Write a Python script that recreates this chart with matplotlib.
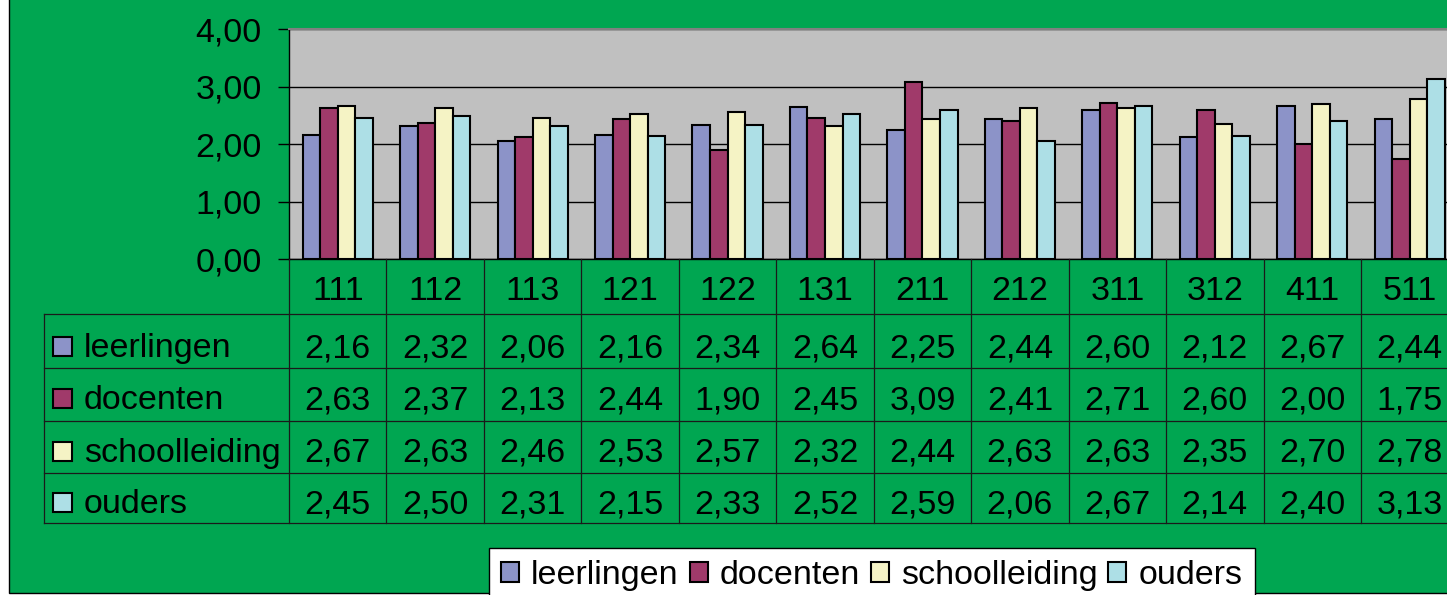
import numpy as np
import matplotlib
matplotlib.use("Agg")
import matplotlib.pyplot as plt
import matplotlib.transforms as mtransforms
from matplotlib.patches import Rectangle
from matplotlib.lines import Line2D

plt.rcParams['font.family'] = ['Liberation Sans', 'DejaVu Sans']

# data
categories = ['111', '112', '113', '121', '122', '131', '211', '212', '311', '312', '411', '511']
leerlingen = [2.16, 2.32, 2.06, 2.16, 2.34, 2.64, 2.25, 2.44, 2.60, 2.12, 2.67, 2.44]
docenten = [2.63, 2.37, 2.13, 2.44, 1.90, 2.45, 3.09, 2.41, 2.71, 2.60, 2.00, 1.75]
schoolleiding = [2.67, 2.63, 2.46, 2.53, 2.57, 2.32, 2.44, 2.63, 2.63, 2.35, 2.70, 2.78]
ouders = [2.45, 2.50, 2.31, 2.15, 2.33, 2.52, 2.59, 2.06, 2.67, 2.14, 2.40, 3.13]
series_names = ['leerlingen', 'docenten', 'schoolleiding', 'ouders']
series_vals = [leerlingen, docenten, schoolleiding, ouders]
colors = ['#8c93c8', '#a03a6a', '#f5f3c5', '#addfe6']
yticks = [0, 1, 2, 3, 4]

W, H = 1447, 595
FS = 24.5


def fy(py):
    # pixel row -> figure fraction
    return 1 - py / H


def nl(v):
    return f'{v:.2f}'.replace('.', ',')


fig = plt.figure(figsize=(W / 100, H / 100), dpi=100, facecolor='white')

# green chart background, drawn below everything
bg = Rectangle((9 / W, 2 / H), 1.2, 1.2, transform=fig.transFigure,
               facecolor='#00a651', edgecolor='black', lw=1, zorder=-5)
fig.add_artist(bg)

cat_w = 97.45
ax = fig.add_axes([289 / W, fy(259.3), 12 * cat_w / W, (259.3 - 29.3) / H])
ax.set_facecolor('#c0c0c0')

x = np.arange(len(categories))
bw = 0.18
handles = []
for k, (name, vals, c) in enumerate(zip(series_names, series_vals, colors)):
    b = ax.bar(x + (k - 1.5) * bw, vals, bw, color=c, edgecolor='black',
               linewidth=1.5, label=name, zorder=3)
    handles.append(b)

ax.set_xlim(-0.5, len(categories) - 0.5)
ax.set_ylim(0, 4)
ax.set_xticks([])
ax.set_yticks(yticks)
ax.set_yticklabels([nl(v) for v in yticks])
ax.tick_params(axis='y', length=8, width=1, pad=11.5, labelsize=FS, direction='out')
ax.yaxis.grid(True, color='black', lw=1)
ax.set_axisbelow(True)
ax.spines['top'].set_color('#808080')
ax.spines['top'].set_linewidth(1.5)
ax.spines['right'].set_visible(False)
ax.spines['left'].set_linewidth(1)
ax.spines['bottom'].set_linewidth(1)

# data table below the plot
trans = mtransforms.blended_transform_factory(ax.transData, fig.transFigure)
row_lines = [314, 368, 421, 473, 523]
row_base = [357, 409, 462, 513]
lc = '#1a1a1a'
for py in row_lines:
    fig.add_artist(Line2D([44 / W, 1.05], [fy(py), fy(py)], transform=fig.transFigure,
                          color=lc, lw=0.9))
for i in range(len(categories) + 1):
    fig.add_artist(Line2D([i - 0.5, i - 0.5], [fy(259.3), fy(523)], transform=trans,
                          color=lc, lw=0.9))
fig.add_artist(Line2D([44 / W, 44 / W], [fy(314), fy(523)], transform=fig.transFigure,
                      color=lc, lw=0.9))

for i, cat in enumerate(categories):
    fig.text(i, fy(300), cat, transform=trans, fontsize=FS, ha='center', va='baseline')

for r, (name, vals, c) in enumerate(zip(series_names, series_vals, colors)):
    base = row_base[r]
    fig.add_artist(Rectangle((53 / W, fy(base - 1)), 19 / W, 19 / H,
                             transform=fig.transFigure, facecolor=c,
                             edgecolor='black', lw=1.5))
    fig.text(84 / W, fy(base), name, fontsize=FS, ha='left', va='baseline')
    for i, v in enumerate(vals):
        fig.text(i, fy(base), nl(v), transform=trans, fontsize=FS,
                 ha='center', va='baseline')

leg = fig.legend(handles, series_names, ncol=4, loc='upper left',
                 bbox_to_anchor=(489 / W, fy(548)), fontsize=FS,
                 handlelength=0.53, handleheight=0.53, handletextpad=0.35,
                 columnspacing=0.32, borderpad=0.36, borderaxespad=0,
                 fancybox=False, framealpha=1, edgecolor='black', facecolor='white')
leg.get_frame().set_linewidth(1)

fig.savefig('out.png', dpi=100, facecolor=fig.get_facecolor())
